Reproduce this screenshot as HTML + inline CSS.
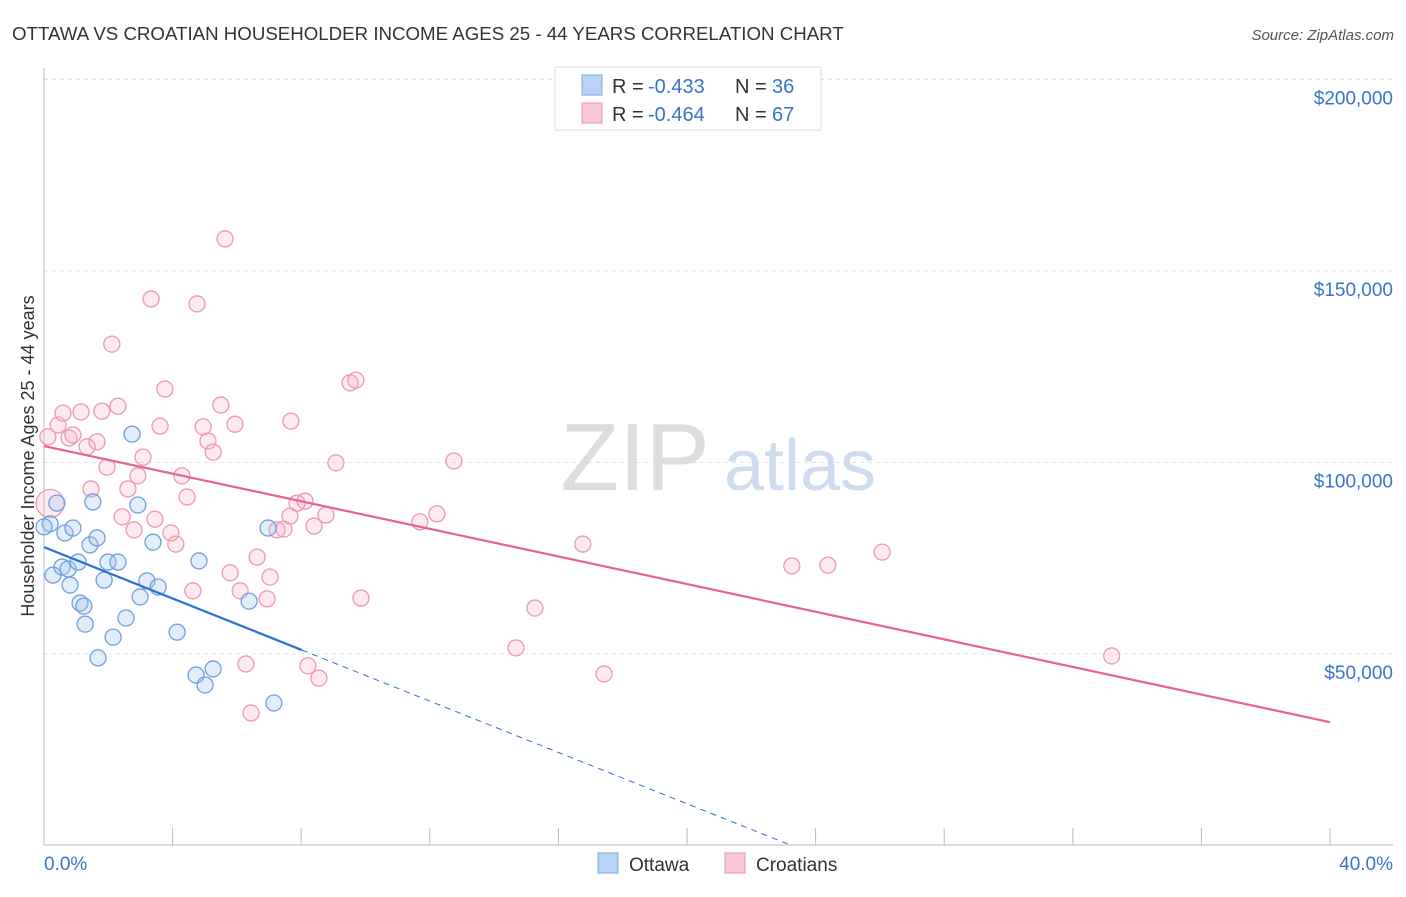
<!DOCTYPE html>
<html><head><meta charset="utf-8"><style>
body{margin:0;background:#fff;font-family:"Liberation Sans",sans-serif}
svg text{font-family:"Liberation Sans",sans-serif}
</style></head><body>
<svg id="chart" width="1406" height="892">
<text x="12" y="40" font-size="18.7" fill="#333">OTTAWA VS CROATIAN HOUSEHOLDER INCOME AGES 25 - 44 YEARS CORRELATION CHART</text>
<text x="1394" y="40" font-size="15" fill="#555" text-anchor="end" font-style="italic">Source: ZipAtlas.com</text>
<g id="grid"></g>
<text x="635" y="490" font-size="96" fill="#ddd" text-anchor="middle" font-family="Liberation Serif">ZIP</text>
<text x="800" y="490" font-size="72" fill="#cfdcef" text-anchor="middle">atlas</text>
<g id="marks"></g>
<text transform="translate(34,456) rotate(-90)" font-size="18" fill="#333" text-anchor="middle">Householder Income Ages 25 - 44 years</text>
<g>
<rect x="555" y="67" width="266" height="63" fill="#fff" stroke="#ddd"/>
<rect x="582" y="75" width="20" height="20" fill="#b9d3f5" stroke="#7aa7e0"/>
<text x="612" y="93" font-size="20" fill="#333">R =</text>
<text x="648" y="93" font-size="20" fill="#3a74c9">-0.433</text>
<text x="735" y="93" font-size="20" fill="#333">N =</text>
<text x="772" y="93" font-size="20" fill="#3a74c9">36</text>
<rect x="582" y="103" width="20" height="20" fill="#f9c7d5" stroke="#ec93ad"/>
<text x="612" y="121" font-size="20" fill="#333">R =</text>
<text x="648" y="121" font-size="20" fill="#3a74c9">-0.464</text>
<text x="735" y="121" font-size="20" fill="#333">N =</text>
<text x="772" y="121" font-size="20" fill="#3a74c9">67</text>
</g>
<g>
<rect x="598" y="853" width="20" height="20" fill="#b9d3f5" stroke="#7aa7e0"/>
<text x="629" y="871" font-size="19" fill="#333">Ottawa</text>
<rect x="725" y="853" width="20" height="20" fill="#f9c7d5" stroke="#ec93ad"/>
<text x="756" y="871" font-size="19" fill="#333">Croatians</text>
</g>
</svg>
<script>
const yTicks=[50000,100000,150000,200000];
const yTickLabels=["$50,000","$100,000","$150,000","$200,000"];
const xTickLabels=["0.0%","40.0%"];
const ottawaX=[0.19,0.40,0.28,0.56,0.65,0.81,0.90,0.75,1.06,1.12,1.24,1.28,1.43,1.52,1.65,1.68,1.87,1.99,2.15,2.30,2.55,2.74,2.92,2.99,3.20,3.39,3.55,4.14,4.73,4.82,5.01,5.26,6.38,6.97,7.15,0.0];
const ottawaY=[84.0,89.4,70.6,72.7,81.6,68.0,82.9,72.2,74.0,63.3,62.5,57.8,78.5,89.7,80.3,49.0,69.3,74.0,54.4,74.0,59.4,107.4,88.9,64.9,69.1,79.2,67.5,55.7,44.5,74.3,41.9,46.1,63.8,82.9,37.2,83.2];
const croatX=[0.12,0.19,0.44,0.59,0.78,0.90,1.15,1.34,1.46,1.65,1.80,1.96,2.11,2.30,2.43,2.61,2.80,2.92,3.08,3.33,3.45,3.61,3.76,3.95,4.10,4.29,4.45,4.63,4.76,4.95,5.10,5.26,5.50,5.63,5.79,5.94,6.10,6.28,6.44,6.63,6.94,7.03,7.25,7.46,7.65,7.68,7.87,8.12,8.21,8.40,8.55,8.77,9.08,9.52,9.70,9.86,11.69,12.22,12.75,14.68,15.27,16.76,17.42,23.26,24.38,26.07,33.21];
const croatY=[106.7,89.3,109.8,112.9,106.4,107.2,113.2,104.1,93.1,105.4,113.4,98.8,130.9,114.7,85.8,93.1,82.4,96.5,101.4,142.7,85.2,109.5,119.2,81.6,78.7,96.5,91.0,66.5,141.4,109.3,105.6,102.7,115.0,158.4,71.2,110.0,66.5,47.4,34.6,75.3,64.4,70.1,82.4,82.6,86.0,110.8,89.4,89.9,46.9,83.4,43.7,86.3,99.9,120.8,121.5,64.6,84.5,86.6,100.4,51.6,62.0,78.7,44.8,73.0,73.2,76.6,49.5];
const ottawaTrend=[77.9,-3.35];
const croatTrend=[104.3,-1.8025];
const X=p=>44+p*(1286/40);
const Y=v=>845.5-v*191.5/50000;
const NS="http://www.w3.org/2000/svg";
function mk(parent,tag,attrs){const e=document.createElementNS(NS,tag);for(const k in attrs)e.setAttribute(k,attrs[k]);parent.appendChild(e);return e;}
const grid=document.getElementById('grid'),marks=document.getElementById('marks');
yTicks.forEach((t,i)=>{
 const l=mk(grid,'line',{x1:44,x2:1393,y1:Y(t),y2:Y(t),stroke:'#e3e3e3','stroke-dasharray':'4,4'});
 
 
 const tx=mk(grid,'text',{x:1393,y:Y(t)+25,'font-size':19,fill:'#3a74c9','text-anchor':'end'});
 tx.textContent=yTickLabels[i];
 
 
});
const topLine=mk(grid,'line',{x1:44,x2:1393,y1:79,y2:79,stroke:'#e3e3e3','stroke-dasharray':'4,4'});


const ax=mk(grid,'line',{x1:44,x2:1393,y1:845,y2:845,stroke:'#bbb'});


const ay=mk(grid,'line',{x1:44,x2:44,y1:68,y2:845,stroke:'#bbb'});


for(let i=0;i<=10;i++){const t=mk(grid,'line',{x1:X(i*4),x2:X(i*4),y1:828,y2:845,stroke:'#bbb'});
 
 }
[[44,'start'],[1393,'end']].forEach((a,i)=>{const t=mk(grid,'text',{x:a[0],y:870,'font-size':19,fill:'#3a74c9','text-anchor':a[1]});t.textContent=xTickLabels[i];
 
 });
croatX.forEach((x,i)=>{const c=mk(marks,'circle',{cx:X(x),cy:Y(croatY[i]*1000),r:i==1?14:8,fill:'rgba(246,170,195,0.25)',stroke:'#ec98b2','stroke-width':1.3});
 
 });
ottawaX.forEach((x,i)=>{const c=mk(marks,'circle',{cx:X(x),cy:Y(ottawaY[i]*1000),r:8,fill:'rgba(160,196,240,0.3)',stroke:'#6f9fdc','stroke-width':1.3});
 
 });
const ct=mk(marks,'line',{x1:X(0),y1:Y(croatTrend[0]*1000),x2:X(40),y2:Y((croatTrend[0]+croatTrend[1]*40)*1000),stroke:'#e8628f','stroke-width':2.2});


const ot=mk(marks,'line',{x1:X(0),y1:Y(ottawaTrend[0]*1000),x2:X(8.02),y2:Y((ottawaTrend[0]+ottawaTrend[1]*8.02)*1000),stroke:'#2a6fd6','stroke-width':2.2});


const x0=-ottawaTrend[0]/ottawaTrend[1];
const od=mk(marks,'line',{x1:X(8.02),y1:Y((ottawaTrend[0]+ottawaTrend[1]*8.02)*1000),x2:X(x0),y2:Y(0),stroke:'#2a6fd6','stroke-width':1,'stroke-dasharray':'6,5'});


</script>
</body></html>
